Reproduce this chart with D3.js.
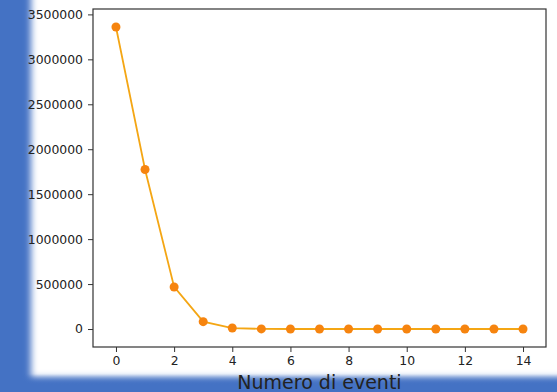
<!DOCTYPE html>
<html>
  <head>
    <meta charset="utf-8">
    <title>Numero di eventi</title>
    <script src="https://d3js.org/d3.v7.min.js"></script>
    <style>
      body { margin: 0; background: #4472c4; overflow: hidden; }
      svg { display: block; font-family: "DejaVu Sans", sans-serif; }
      .tick text { font-family: "DejaVu Sans", sans-serif; font-size: 12.4px; fill: #222; }
      .tick line { stroke: #333; }
      .domain { display: none; }
    </style>
  </head>
  <body>
    <svg id="chart" width="557" height="392"></svg>
    <script>
      // data
      events = [0, 1, 2, 3, 4, 5, 6, 7, 8, 9, 10, 11, 12, 13, 14];
      counts = [3360000, 1775000, 468000, 82000, 11000, 1200, 100, 10, 0, 0, 0, 0, 0, 0, 0];
      xTicks = [0, 2, 4, 6, 8, 10, 12, 14];
      yTicks = [0, 500000, 1000000, 1500000, 2000000, 2500000, 3000000, 3500000];
      data = events.map(function(e, i) { return { e: e, n: counts[i] }; });

      svg = d3.select("#chart");
      // slide background: blurred white panel on blue
      defs = svg.append("defs");
      defs.append("filter").attr("id", "soft")
        .attr("x", "-10%").attr("y", "-10%").attr("width", "120%").attr("height", "120%")
        .append("feGaussianBlur").attr("stdDeviation", 3.5);
      svg.append("rect")
        .attr("x", 31).attr("y", -20)
        .attr("width", 560).attr("height", 398)
        .attr("fill", "#fff")
        .attr("filter", "url(#soft)");

      // plot box (named to avoid window.top)
      boxL = 93; boxR = 546; boxT = 9; boxB = 347;
      x = d3.scaleLinear().domain([-0.79, 14.79]).range([boxL, boxR]);
      y = d3.scaleLinear().domain([-200000, 3560000]).range([boxB, boxT]);

      // axes
      svg.append("g")
        .attr("transform", "translate(0," + boxB + ")")
        .call(d3.axisBottom(x).tickValues(xTicks).tickSize(5).tickPadding(4).tickFormat(d3.format("d")));
      svg.append("g")
        .attr("transform", "translate(" + boxL + ",0)")
        .call(d3.axisLeft(y).tickValues(yTicks).tickSize(5).tickPadding(5).tickFormat(d3.format("d")));

      // frame
      svg.append("rect")
        .attr("x", boxL).attr("y", boxT)
        .attr("width", boxR - boxL).attr("height", boxB - boxT)
        .attr("fill", "none").attr("stroke", "#333").attr("stroke-width", 1.2);

      // series
      line = d3.line()
        .x(function(d) { return x(d.e); })
        .y(function(d) { return y(d.n); });
      svg.append("path")
        .datum(data)
        .attr("d", line)
        .attr("fill", "none")
        .attr("stroke", "#f4a614")
        .attr("stroke-width", 1.8);
      svg.selectAll(".dot")
        .data(data)
        .enter().append("circle")
          .attr("class", "dot")
          .attr("cx", function(d) { return x(d.e); })
          .attr("cy", function(d) { return y(d.n); })
          .attr("r", 4.5)
          .attr("fill", "#f6840f");

      // bottom blue band
      grad = defs.append("linearGradient").attr("id", "band")
        .attr("x1", 0).attr("y1", 0).attr("x2", 0).attr("y2", 1);
      grad.append("stop").attr("offset", "0%").attr("stop-color", "#4472c4").attr("stop-opacity", 0);
      grad.append("stop").attr("offset", "60%").attr("stop-color", "#4472c4").attr("stop-opacity", 1);
      svg.append("rect")
        .attr("x", 0).attr("y", 374)
        .attr("width", 557).attr("height", 18)
        .attr("fill", "url(#band)");

      // x label
      svg.append("text")
        .attr("x", (boxL + boxR) / 2)
        .attr("y", 389)
        .attr("text-anchor", "middle")
        .attr("font-size", 19)
        .attr("fill", "#222")
        .text("Numero di eventi");
    </script>
  </body>
</html>
